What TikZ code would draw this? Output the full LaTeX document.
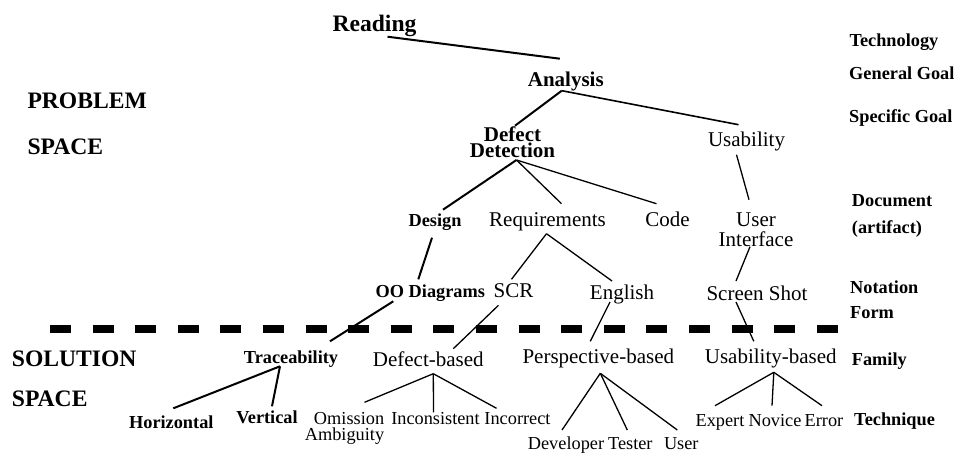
\documentclass[tikz,border=0pt]{standalone}
\usepackage{fontspec}
\setmainfont{Liberation Serif}
\begin{document}
\begin{tikzpicture}[x=1pt,y=-1pt,
  every node/.style={inner sep=0pt,anchor=base},
  hd/.style={font=\fontsize{23.6}{26}\selectfont\bfseries},
  mb/.style={font=\fontsize{21}{22}\selectfont\bfseries},
  mn/.style={font=\fontsize{21}{22}\selectfont},
  sb/.style={font=\fontsize{18.3}{19}\selectfont\bfseries},
  sn/.style={font=\fontsize{18.3}{19}\selectfont},
  lv/.style={sb,anchor=base west,align=left},
  br/.style={line width=2pt},
  ln/.style={line width=1.3pt},
  sep/.style={line width=8pt,dash pattern=on 21pt off 21.6pt}]
  \useasboundingbox (0,0) rectangle (957,454);
  % problem space
  \node[hd] (reading) at (374.5,31.7){Reading};
  \node[mb] (analysis) at (565.8,86.7){Analysis};
  \node[mb,font=\fontsize{21}{15.6}\selectfont\bfseries,align=center] (dd) at (512.5,157.3){Defect\\Detection};
  \node[mn] (usab) at (746.5,146.7){Usability};
  \node[sb] (design) at (435,226.7){Design};
  \node[mn] (req) at (547.5,226.7){Requirements};
  \node[mn] (code) at (667.5,226.7){Code};
  \node[mn,font=\fontsize{21}{20}\selectfont,align=center] (ui) at (756,246.7){User\\Interface};
  \node[sb] (oo) at (430.3,297.3){OO Diagrams};
  \node[mn] (scr) at (513.5,297.3){SCR};
  \node[mn] (english) at (622,299){English};
  \node[mn] (screen) at (757,300){Screen Shot};
  % solution space
  \node[sb] (trace) at (291,363.3){Traceability};
  \node[mn] (defb) at (428.3,366.7){Defect-based};
  \node[mn] (persp) at (598.3,363.3){Perspective-based};
  \node[mn] (usabb) at (770.8,363.3){Usability-based};
  \node[sb] (horiz) at (171.3,428.3){Horizontal};
  \node[sb] (vert) at (267,423.3){Vertical};
  \node[sn,font=\fontsize{18.3}{15.7}\selectfont,align=right] (omis) at (344.5,440){Omission\\Ambiguity};
  \node[sn] (incons) at (435.5,424.3){Inconsistent};
  \node[sn] (incorr) at (517.5,424.3){Incorrect};
  \node[sn] (dev) at (566,449){Developer};
  \node[sn] (tester) at (630.3,449){Tester};
  \node[sn] (user) at (681.3,449){User};
  \node[sn] (expert) at (720,426.7){Expert};
  \node[sn] (novice) at (775,426.7){Novice};
  \node[sn] (error) at (824,426.7){Error};
  % side labels
  \node[hd,anchor=base west] (prob) at (27.3,108.3){PROBLEM};
  \node[hd,anchor=base west] (pspace) at (27.3,155){SPACE};
  \node[hd,anchor=base west] (sol) at (11.7,366.7){SOLUTION};
  \node[hd,anchor=base west] (sspace) at (11.7,406.7){SPACE};
  \node[lv] (ltech) at (849.3,46.7){Technology};
  \node[lv] (lgen) at (849,79.3){General Goal};
  \node[lv] (lspec) at (849,122.7){Specific Goal};
  \node[lv,font=\fontsize{18.3}{26.6}\selectfont\bfseries] (ldoc) at (851.7,233.3){Document\\(artifact)};
  \node[lv,font=\fontsize{18.3}{25}\selectfont\bfseries] (lnot) at (850,318.3){Notation\\Form};
  \node[lv] (lfam) at (851.7,365){Family};
  \node[lv] (ltq) at (854,425){Technique};
  % separator
  \coordinate (sepL) at (50,329);
  \coordinate (sepR) at (838,329);
  \draw[sep] (sepL) -- (sepR);
  % tree
  \draw[br] ([shift={(13,5)}]reading.base) -- ([shift={(-6,-28)}]analysis.base);
  \draw[br] ([shift={(-4,4)}]analysis.base) -- ([shift={(2.5,-31.6)}]dd.base);
  \draw[line width=1.6pt] ([shift={(-4,4)}]analysis.base) -- ([shift={(-8,-22)}]usab.base);
  \draw[br] ([shift={(4,2.7)}]dd.base) -- ([shift={(8,-17)}]design.base);
  \draw[ln] ([shift={(4,2.7)}]dd.base) -- ([shift={(14,-23)}]req.base);
  \draw[ln] ([shift={(4,2.7)}]dd.base) -- ([shift={(-11,-23)}]code.base);
  \draw[ln] ([shift={(-10,8)}]usab.base) -- ([shift={(-7,-47)}]ui.base);
  \draw[br] ([shift={(-3,11)}]design.base) -- ([shift={(-12,-18)}]oo.base);
  \draw[ln] ([shift={(-1,7)}]req.base) -- ([shift={(-2,-18)}]scr.base);
  \draw[ln] ([shift={(-1,7)}]req.base) -- ([shift={(-10,-18)}]english.base);
  \draw[ln] ([shift={(-6,0)}]ui.base) -- ([shift={(-21,-19)}]screen.base);
  \draw[br] ([shift={(-37,4)}]oo.base) -- ([shift={(39,-22)}]trace.base);
  \draw[ln] ([shift={(-15,8)}]scr.base) -- ([shift={(25,-18)}]defb.base);
  \draw[ln] ([shift={(-12,3)}]english.base) -- ([shift={(-8,-22)}]persp.base);
  \draw[ln] ([shift={(-21,2)}]screen.base) -- ([shift={(-17,-22)}]usabb.base);
  \draw[br] ([shift={(-11,3)}]trace.base) -- ([shift={(2,-20)}]horiz.base);
  \draw[br] ([shift={(-11,3)}]trace.base) -- ([shift={(5,-17)}]vert.base);
  \draw[ln] ([shift={(5,7)}]defb.base) -- ([shift={(20,-37.7)}]omis.base);
  \draw[ln] ([shift={(5,7)}]defb.base) -- ([shift={(-2,-12)}]incons.base);
  \draw[ln] ([shift={(5,7)}]defb.base) -- ([shift={(-21,-16)}]incorr.base);
  \draw[ln] ([shift={(2,10)}]persp.base) -- ([shift={(-4,-19)}]dev.base);
  \draw[ln] ([shift={(2,10)}]persp.base) -- ([shift={(-3,-19)}]tester.base);
  \draw[ln] ([shift={(2,10)}]persp.base) -- ([shift={(-4,-19)}]user.base);
  \draw[ln] ([shift={(3,9)}]usabb.base) -- ([shift={(-5,-21)}]expert.base);
  \draw[ln] ([shift={(3,9)}]usabb.base) -- ([shift={(-3,-21)}]novice.base);
  \draw[ln] ([shift={(3,9)}]usabb.base) -- ([shift={(-2,-21)}]error.base);
\end{tikzpicture}
\end{document}
